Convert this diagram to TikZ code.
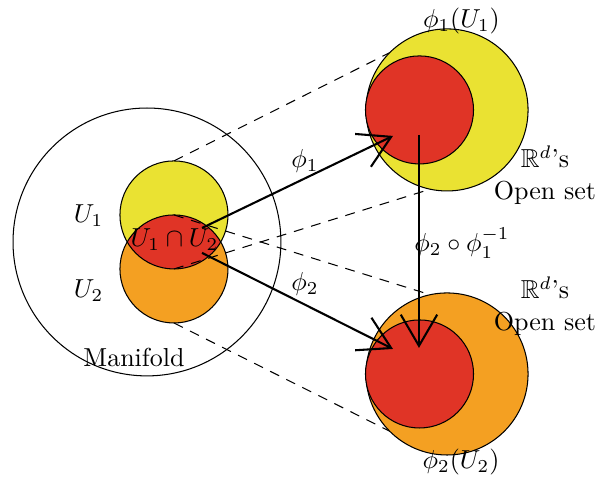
\documentclass[tikz,border=0pt]{standalone}
\usepackage{amssymb}
\usetikzlibrary{arrows.meta,calc}
\definecolor{chartYellow}{RGB}{234,226,50}
\definecolor{chartOrange}{RGB}{244,160,34}
\definecolor{chartRed}{RGB}{224,52,38}

\begin{document}
\begin{tikzpicture}[>={Straight Barb[length=12pt,width=14pt]},
    guide/.style={dash pattern=on 3.8pt off 3.1pt}]
  \useasboundingbox (0,0) rectangle (8.095,6.486);

  % Manifold
  \draw (1.986,3.216) circle (1.81);

  % Charts U1, U2 and their overlap
  \coordinate (U1) at (2.351,3.581);
  \coordinate (U2) at (2.351,2.851);
  \fill[chartYellow] (U1) circle (0.73);
  \fill[chartOrange] (U2) circle (0.73);
  \begin{scope}
    \clip (U1) circle (0.73);
    \fill[chartRed] (U2) circle (0.73);
  \end{scope}
  \draw (U1) circle (0.73);
  \draw (U2) circle (0.73);

  % Images in R^d (centres)
  \coordinate (V1) at (6.041,5.0);
  \coordinate (V2) at (6.041,1.432);

  % Dashed guide lines (hidden behind the images)
  \coordinate (U1top) at ($(U1)+(90:0.73)$);
  \coordinate (U1bot) at ($(U1)+(-90:0.73)$);
  \coordinate (U2top) at ($(U2)+(90:0.73)$);
  \coordinate (U2bot) at ($(U2)+(-90:0.73)$);
  \coordinate (V1nw) at ($(V1)+(135:1.095)$);
  \coordinate (V1s) at ($(V1)+(258:1.095)$);
  \coordinate (V2n) at ($(V2)+(102:1.095)$);
  \coordinate (V2sw) at ($(V2)+(225:1.095)$);
  \draw[guide] (U1top) -- (V1nw);
  \draw[guide] (U1bot) -- (V1s);
  \draw[guide] (U2top) -- (V2n);
  \draw[guide] (U2bot) -- (V2sw);

  % Open sets phi_1(U1) and phi_2(U2)
  \filldraw[fill=chartYellow] (V1) circle (1.095);
  \filldraw[fill=chartRed] (5.669,5.0) circle (0.73);
  \filldraw[fill=chartOrange] (V2) circle (1.095);
  \filldraw[fill=chartRed] (5.669,1.432) circle (0.73);

  % Chart maps
  \coordinate (phiOneFrom) at (2.730,3.405);
  \coordinate (phiOneTo) at (5.311,4.649);
  \coordinate (phiTwoFrom) at (2.730,3.068);
  \coordinate (phiTwoTo) at (5.311,1.770);
  \coordinate (transFrom) at (5.662,4.662);
  \coordinate (transTo) at (5.662,1.784);
  \draw[->, thick] (phiOneFrom) -- (phiOneTo);
  \draw[->, thick] (phiTwoFrom) -- (phiTwoTo);
  \draw[->, thick] (transFrom) -- (transTo);

  % Labels
  \node (lblU1) at (1.196,3.568) {$U_1$};
  \node (lblU2) at (1.196,2.554) {$U_2$};
  \node (lblCap) at (2.358,3.243) {$U_1\cap U_2$};
  \node (lblMan) at (1.811,1.649) {Manifold};
  \node (lblPhiOne) at (4.122,4.311) {$\phi_1$};
  \node (lblPhiTwo) at (4.122,2.649) {$\phi_2$};
  \node (lblTrans) at (6.243,3.2) {$\phi_2\circ\phi_1^{-1}$};
  \node (lblImgOne) at (6.236,6.203) {$\phi_1(U_1)$};
  \node (lblImgTwo) at (6.230,0.236) {$\phi_2(U_2)$};
  \node[align=center] (lblOpenOne) at (7.365,4.122) {$\mathbb{R}^d$'s\\Open set};
  \node[align=center] (lblOpenTwo) at (7.365,2.351) {$\mathbb{R}^d$'s\\Open set};
\end{tikzpicture}
\end{document}
